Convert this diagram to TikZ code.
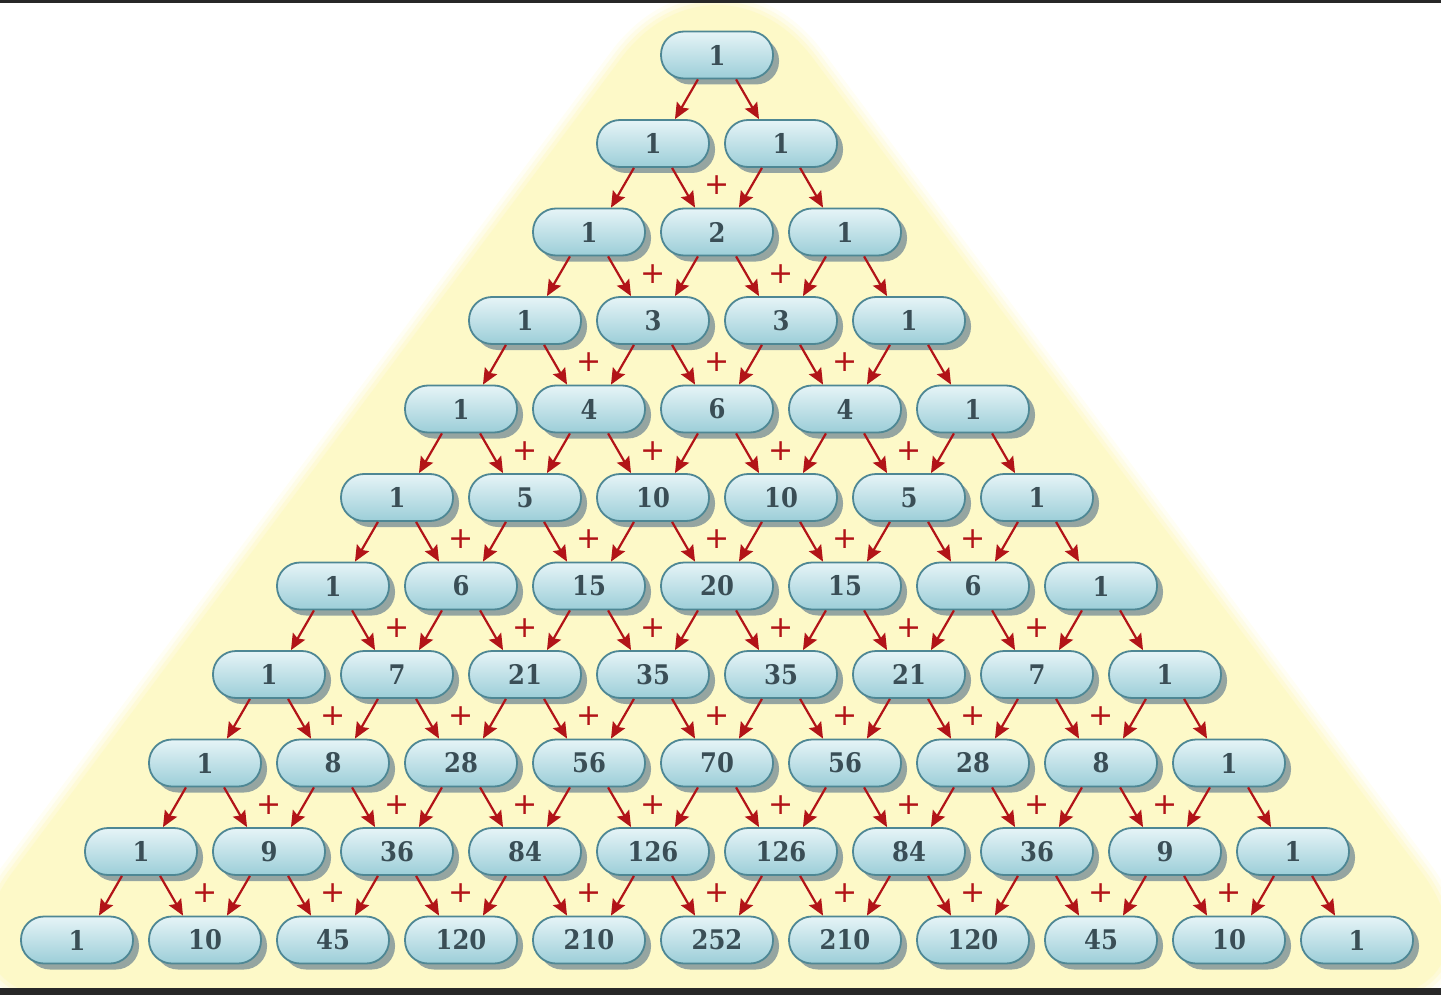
\documentclass[tikz,border=0pt]{standalone}
\usepackage{fontspec}
\setmainfont{DejaVu Serif}
\newfontfamily\cellfont{DejaVu Serif}[FakeStretch=0.9]
\newfontfamily\plusfont{DejaVu Sans}
\usetikzlibrary{shadows,arrows.meta}
\definecolor{bgyellow}{RGB}{253,249,200}
\definecolor{cellborder}{RGB}{78,135,148}
\definecolor{celltop}{RGB}{230,244,247}
\definecolor{cellbot}{RGB}{156,206,216}
\definecolor{celltext}{RGB}{58,78,86}
\definecolor{arrowred}{RGB}{178,20,24}
\definecolor{barc}{RGB}{40,40,40}
\definecolor{shadowc}{RGB}{115,138,148}
\begin{document}
\begin{tikzpicture}[x=0.5pt,y=-0.5pt,
  cell/.style={rectangle, rounded corners=11.5pt, minimum width=56pt, minimum height=23.5pt,
    inner sep=0pt, draw=cellborder, line width=0.9pt, top color=celltop, bottom color=cellbot,
    text=celltext, font=\cellfont\fontsize{13.5}{15}\selectfont\bfseries,
    drop shadow={shadow xshift=3pt, shadow yshift=-3pt, fill=shadowc, opacity=0.75}},
  arr/.style={draw=arrowred, line width=1.1pt, -{Stealth[length=8pt,width=7pt,inset=1.3pt]}},
  plussign/.style={text=arrowred, font=\plusfont\fontsize{15}{15}\selectfont, inner sep=0pt},
  bgtri/.style={rounded corners=80pt}]
\useasboundingbox (0,0) rectangle (1441,995);
\begin{scope}
  \clip (0,0) rectangle (1441,995);
  \path[bgtri, draw=bgyellow!20!white, line width=12pt]
    (717,-70) -- (1517,1000) -- (-83,1000) -- cycle;
  \path[bgtri, draw=bgyellow!45!white, line width=8pt]
    (717,-70) -- (1517,1000) -- (-83,1000) -- cycle;
  \path[bgtri, draw=bgyellow!75!white, line width=4pt]
    (717,-70) -- (1517,1000) -- (-83,1000) -- cycle;
  \fill[bgtri, bgyellow]
    (717,-70) -- (1517,1000) -- (-83,1000) -- cycle;
\end{scope}
\fill[barc] (0,0) rectangle (1441,3.5);
\fill[barc] (0,988) rectangle (1441,995);
\foreach \vals [count=\r from 0] in {{1},{1,1},{1,2,1},{1,3,3,1},{1,4,6,4,1},{1,5,10,10,5,1},
  {1,6,15,20,15,6,1},{1,7,21,35,35,21,7,1},{1,8,28,56,70,56,28,8,1},
  {1,9,36,84,126,126,84,36,9,1},{1,10,45,120,210,252,210,120,45,10,1}}{
  \foreach \v [count=\k from 0] in \vals {
    \node[cell] (n-\r-\k) at ({717+(\k-\r/2)*128},{55+88.5*\r}) {\v};
  }
}
\foreach \r in {0,...,9}{
  \pgfmathtruncatemacro{\rn}{\r+1}
  \foreach \k in {0,...,\r}{
    \pgfmathtruncatemacro{\kn}{\k+1}
    \draw[arr] (n-\r-\k.232) -- (n-\rn-\k.48);
    \draw[arr] (n-\r-\k.308) -- (n-\rn-\kn.132);
  }
}
\foreach \r in {2,...,10}{
  \pgfmathtruncatemacro{\kmax}{\r-1}
  \foreach \k in {1,...,\kmax}{
    \node[plussign] (p-\r-\k) at ({717+(\k-\r/2)*128},{55+88.5*\r-46.5}) {+};
  }
}
\end{tikzpicture}
\end{document}
